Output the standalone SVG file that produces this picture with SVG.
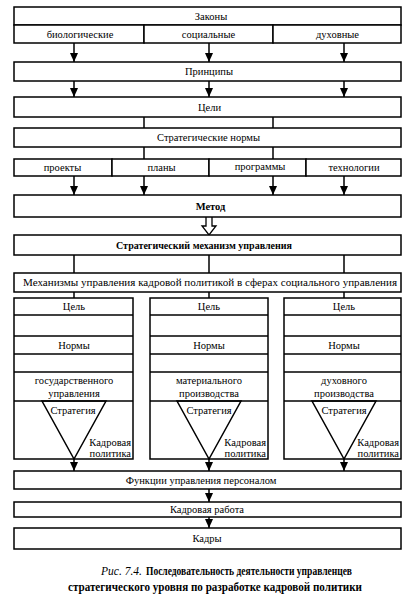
<svg xmlns="http://www.w3.org/2000/svg" width="410" height="600" viewBox="0 0 410 600">
<style>
  .b { fill: #fff; stroke: #000; stroke-width: 1.5; }
  .l { stroke: #000; stroke-width: 1.5; fill: none; }
  text { font-family: 'Liberation Serif', 'Times New Roman', 'DejaVu Serif', serif; fill: #000; }
  .t { font-size: 10.5px; text-anchor: middle; dominant-baseline: central; }
  .bold { font-weight: bold; }
  .r { text-anchor: end; }
  .cap { font-size: 11.5px; font-weight: bold; }
  .capi { font-size: 11.5px; font-style: italic; }
</style>
<defs>
  <marker id="ah" markerUnits="userSpaceOnUse" markerWidth="9" markerHeight="8" refX="9" refY="4" orient="auto">
    <path d="M0,0 L9,4 L0,8 z" fill="#000"/>
  </marker>
</defs>
<rect width="410" height="600" fill="#fff"/>

<g id="connectors">
  <line class="l" x1="74" y1="43" x2="74" y2="62" marker-end="url(#ah)"/>
  <line class="l" x1="209" y1="43" x2="209" y2="62" marker-end="url(#ah)"/>
  <line class="l" x1="344" y1="43" x2="344" y2="62" marker-end="url(#ah)"/>
  <line class="l" x1="74" y1="81" x2="74" y2="97" marker-end="url(#ah)"/>
  <line class="l" x1="209" y1="81" x2="209" y2="97" marker-end="url(#ah)"/>
  <line class="l" x1="344" y1="81" x2="344" y2="97" marker-end="url(#ah)"/>
  <line class="l" x1="144" y1="117" x2="144" y2="128"/>
  <line class="l" x1="273" y1="117" x2="273" y2="128"/>
  <line class="l" x1="144" y1="147" x2="144" y2="159"/>
  <line class="l" x1="273" y1="147" x2="273" y2="159"/>
  <line class="l" x1="74" y1="176" x2="74" y2="195" marker-end="url(#ah)"/>
  <line class="l" x1="144" y1="176" x2="144" y2="195" marker-end="url(#ah)"/>
  <line class="l" x1="273" y1="176" x2="273" y2="195" marker-end="url(#ah)"/>
  <line class="l" x1="344" y1="176" x2="344" y2="195" marker-end="url(#ah)"/>
  <path d="M206,217 L206,226 L202,226 L209,235 L216,226 L212,226 L212,217" fill="#fff" stroke="#000" stroke-width="1.3"/>
  <line class="l" x1="74" y1="255" x2="74" y2="273"/>
  <line class="l" x1="209" y1="255" x2="209" y2="273"/>
  <line class="l" x1="344" y1="255" x2="344" y2="273"/>
  <line class="l" x1="74" y1="292" x2="74" y2="298"/>
  <line class="l" x1="209" y1="292" x2="209" y2="298"/>
  <line class="l" x1="344" y1="292" x2="344" y2="298"/>
  <line class="l" x1="74" y1="315" x2="74" y2="336" marker-end="url(#ah)"/>
  <line class="l" x1="209" y1="315" x2="209" y2="336" marker-end="url(#ah)"/>
  <line class="l" x1="344" y1="315" x2="344" y2="336" marker-end="url(#ah)"/>
  <line class="l" x1="74" y1="354" x2="74" y2="372" marker-end="url(#ah)"/>
  <line class="l" x1="209" y1="354" x2="209" y2="372" marker-end="url(#ah)"/>
  <line class="l" x1="344" y1="354" x2="344" y2="372" marker-end="url(#ah)"/>
  <line class="l" x1="74" y1="459" x2="74" y2="471" marker-end="url(#ah)"/>
  <line class="l" x1="209" y1="459" x2="209" y2="471" marker-end="url(#ah)"/>
  <line class="l" x1="344" y1="459" x2="344" y2="471" marker-end="url(#ah)"/>
  <line class="l" x1="209" y1="489" x2="209" y2="502" marker-end="url(#ah)"/>
  <line class="l" x1="209" y1="517" x2="209" y2="528" marker-end="url(#ah)"/>
</g>

<g id="laws">
  <rect class="b" x="14" y="7" width="387" height="18"/>
  <text class="t" x="211" y="16">Законы</text>
</g>
<g id="law-bio">
  <rect class="b" x="14" y="25" width="130" height="18"/>
  <text class="t" x="80" y="34">биологические</text>
</g>
<g id="law-soc">
  <rect class="b" x="144" y="25" width="129" height="18"/>
  <text class="t" x="208.5" y="34">социальные</text>
</g>
<g id="law-spirit">
  <rect class="b" x="273" y="25" width="128" height="18"/>
  <text class="t" x="337.5" y="34">духовные</text>
</g>
<g id="principles">
  <rect class="b" x="14" y="62" width="387" height="19"/>
  <text class="t" x="209" y="71.5">Принципы</text>
</g>
<g id="goals">
  <rect class="b" x="14" y="97" width="387" height="20"/>
  <text class="t" x="209.5" y="107">Цели</text>
</g>
<g id="norms">
  <rect class="b" x="14" y="128" width="387" height="19"/>
  <text class="t" x="208.5" y="137.5">Стратегические нормы</text>
</g>
<g id="projects">
  <rect class="b" x="14" y="159" width="98" height="17"/>
  <text class="t" x="62.5" y="167.5">проекты</text>
</g>
<g id="plans">
  <rect class="b" x="112" y="159" width="97" height="17"/>
  <text class="t" x="161.5" y="167.5">планы</text>
</g>
<g id="programs">
  <rect class="b" x="209" y="159" width="97" height="17"/>
  <text class="t" x="260" y="166.5">программы</text>
</g>
<g id="technologies">
  <rect class="b" x="306" y="159" width="95" height="17"/>
  <text class="t" x="354" y="167.5">технологии</text>
</g>
<g id="method">
  <rect class="b" x="14" y="195" width="387" height="22"/>
  <text class="t bold" x="210.5" y="206">Метод</text>
</g>
<g id="strat-mech">
  <rect class="b" x="14" y="235" width="387" height="20"/>
  <text class="t bold" x="204" y="245" textLength="176" lengthAdjust="spacingAndGlyphs">Стратегический механизм управления</text>
</g>
<g id="mechanisms">
  <rect class="b" x="14" y="273" width="387" height="19"/>
  <text class="t" x="210" y="282.5" textLength="374" lengthAdjust="spacingAndGlyphs">Механизмы управления кадровой политикой в сферах социального управления</text>
</g>

<g id="col-state">
  <rect class="b" x="14" y="298" width="119" height="161"/>
  <line class="l" x1="14" y1="315" x2="133" y2="315"/>
  <line class="l" x1="14" y1="336" x2="133" y2="336"/>
  <line class="l" x1="14" y1="354" x2="133" y2="354"/>
  <line class="l" x1="14" y1="372" x2="133" y2="372"/>
  <line class="l" x1="14" y1="401" x2="133" y2="401"/>
  <polygon class="l" points="42,401 106,401 74,459"/>
  <text class="t" x="74" y="306.5">Цель</text>
  <text class="t" x="74" y="345">Нормы</text>
  <text class="t" x="74" y="380">государственного</text>
  <text class="t" x="74" y="393">управления</text>
  <text class="t" x="73" y="410">Стратегия</text>
  <text class="t r" x="131" y="442">Кадровая</text>
  <text class="t r" x="131" y="453">политика</text>
</g>
<g id="col-material">
  <rect class="b" x="150" y="298" width="118" height="161"/>
  <line class="l" x1="150" y1="315" x2="268" y2="315"/>
  <line class="l" x1="150" y1="336" x2="268" y2="336"/>
  <line class="l" x1="150" y1="354" x2="268" y2="354"/>
  <line class="l" x1="150" y1="372" x2="268" y2="372"/>
  <line class="l" x1="150" y1="401" x2="268" y2="401"/>
  <polygon class="l" points="177,401 241,401 209,459"/>
  <text class="t" x="209" y="306.5">Цель</text>
  <text class="t" x="209" y="345">Нормы</text>
  <text class="t" x="209" y="380">материального</text>
  <text class="t" x="209" y="393">производства</text>
  <text class="t" x="209" y="410">Стратегия</text>
  <text class="t r" x="266" y="442">Кадровая</text>
  <text class="t r" x="266" y="453">политика</text>
</g>
<g id="col-spiritual">
  <rect class="b" x="284" y="298" width="117" height="161"/>
  <line class="l" x1="284" y1="315" x2="401" y2="315"/>
  <line class="l" x1="284" y1="336" x2="401" y2="336"/>
  <line class="l" x1="284" y1="354" x2="401" y2="354"/>
  <line class="l" x1="284" y1="372" x2="401" y2="372"/>
  <line class="l" x1="284" y1="401" x2="401" y2="401"/>
  <polygon class="l" points="312,401 376,401 344,459"/>
  <text class="t" x="344" y="306.5">Цель</text>
  <text class="t" x="344" y="345">Нормы</text>
  <text class="t" x="344" y="380">духовного</text>
  <text class="t" x="344" y="393">производства</text>
  <text class="t" x="344" y="410">Стратегия</text>
  <text class="t r" x="399" y="442">Кадровая</text>
  <text class="t r" x="399" y="453">политика</text>
</g>

<g id="functions">
  <rect class="b" x="14" y="471" width="387" height="18"/>
  <text class="t" x="201" y="480">Функции управления персоналом</text>
</g>
<g id="hr-work">
  <rect class="b" x="14" y="502" width="387" height="15"/>
  <text class="t" x="207" y="509.5">Кадровая работа</text>
</g>
<g id="staff">
  <rect class="b" x="14" y="528" width="387" height="21"/>
  <text class="t" x="207" y="538.5">Кадры</text>
</g>

<g id="caption">
  <text class="capi" x="101" y="575">Рис. 7.4.</text>
  <text class="cap" x="146" y="575" textLength="206" lengthAdjust="spacingAndGlyphs">Последовательность деятельности управленцев</text>
  <text class="cap" x="68" y="591" textLength="294" lengthAdjust="spacingAndGlyphs">стратегического уровня по разработке кадровой политики</text>
</g>
</svg>
